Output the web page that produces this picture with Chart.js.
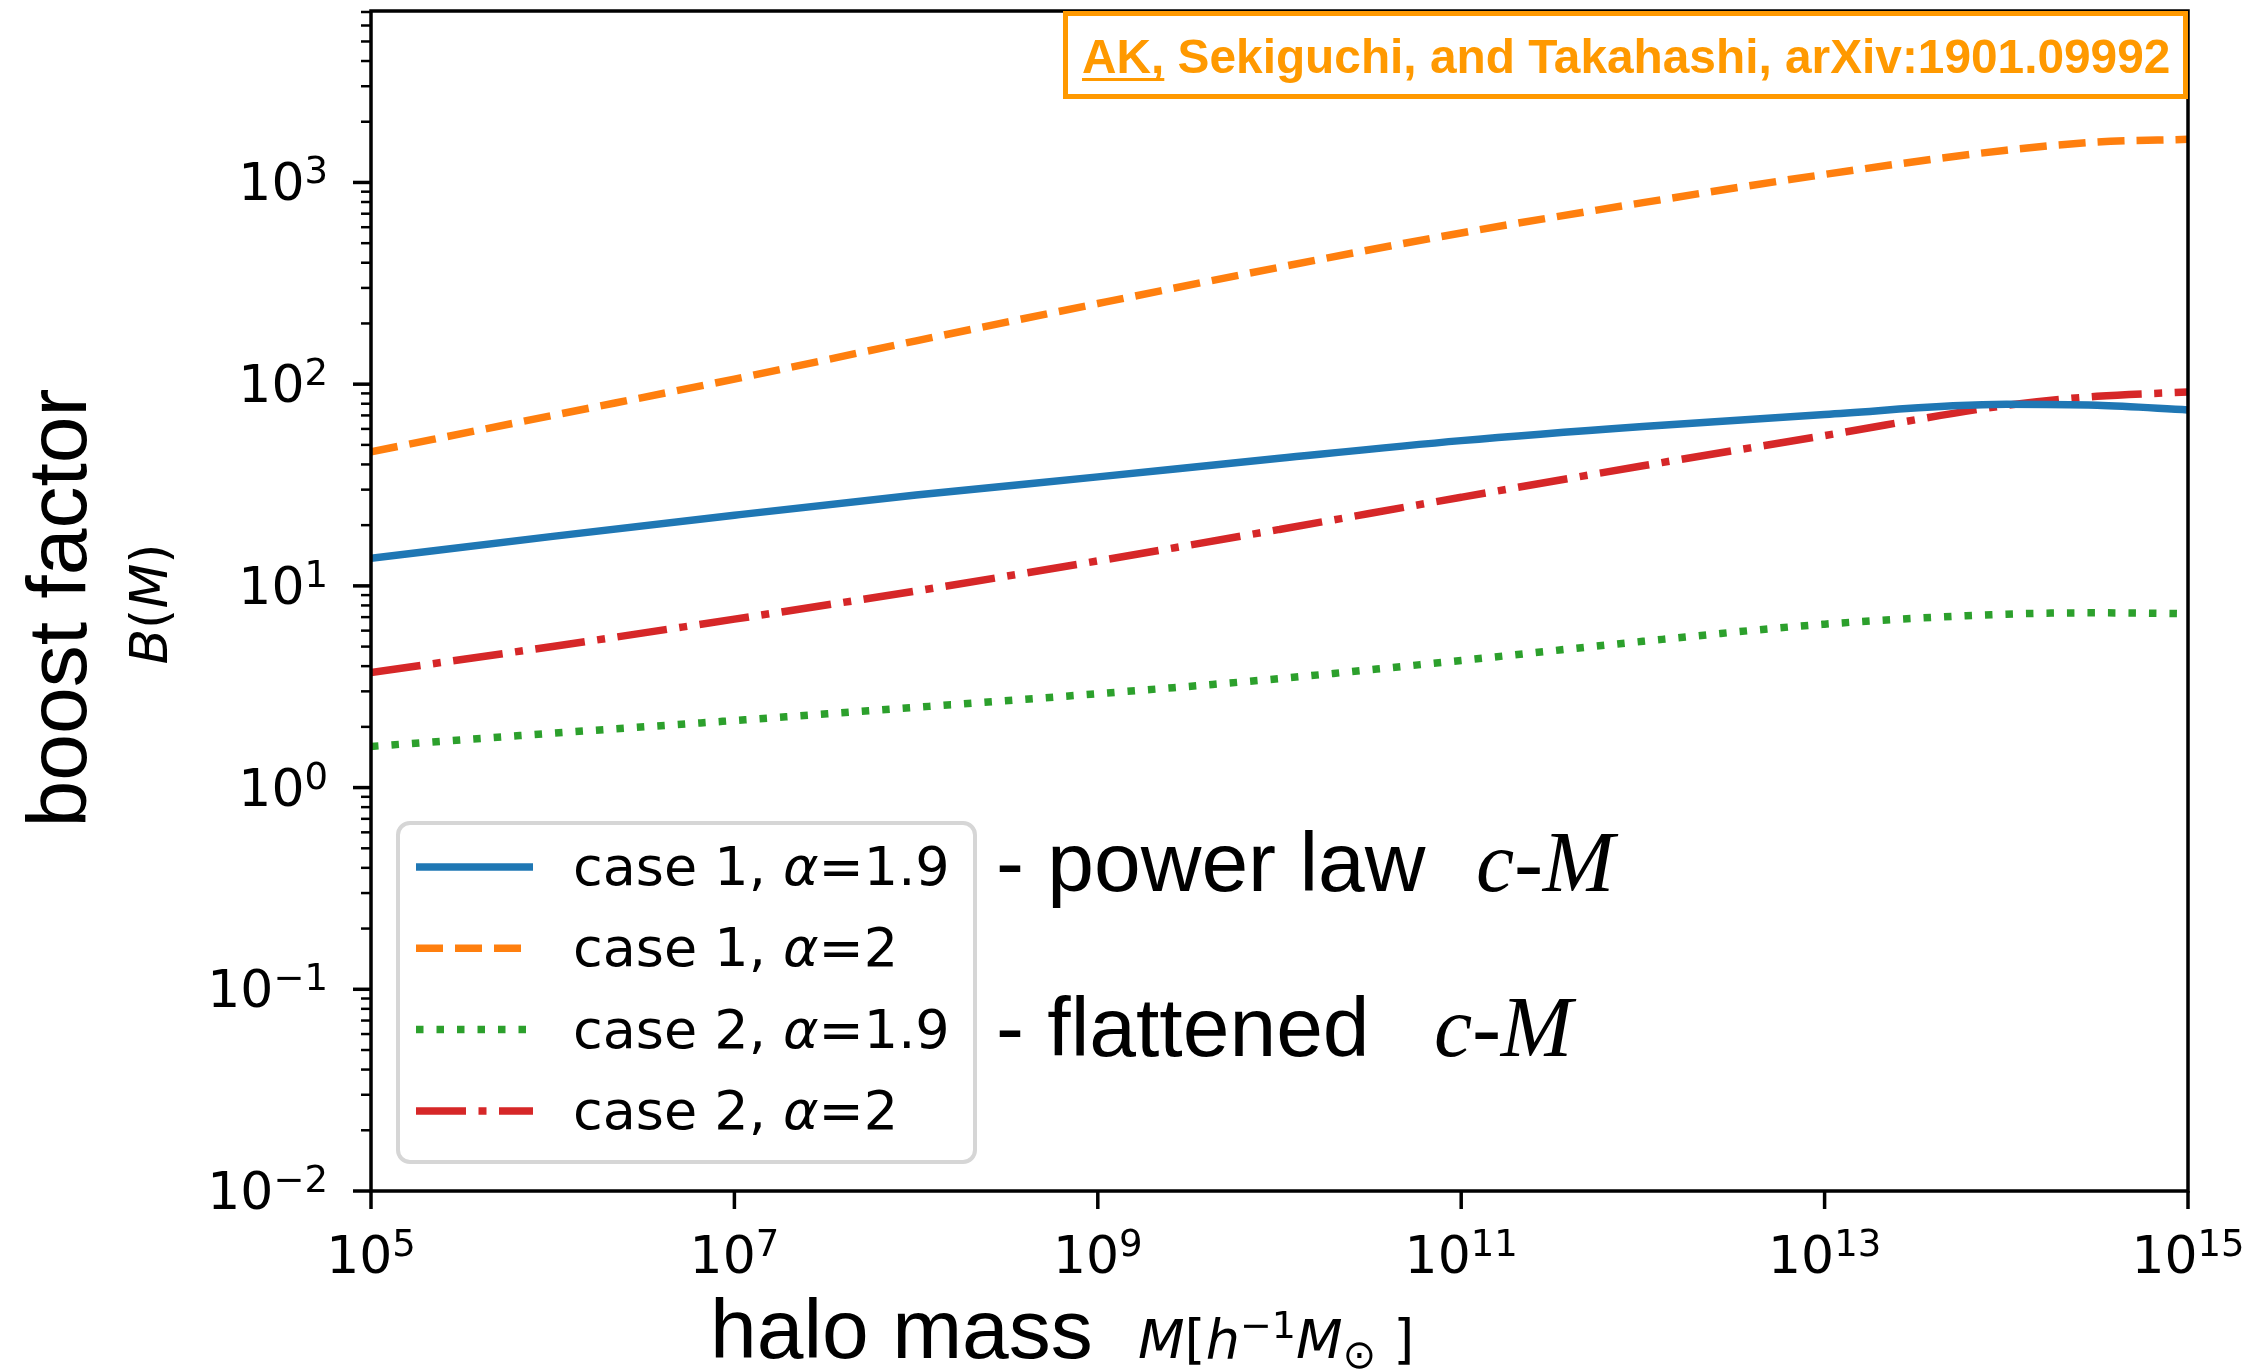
<!DOCTYPE html>
<html>
<head>
<meta charset="utf-8">
<script src="https://cdn.jsdelivr.net/npm/chart.js@4.4.0/dist/chart.umd.min.js"></script>
<style>
  html, body { margin: 0; padding: 0; background: #fff; }
  canvas { display: block; }
</style>
</head>
<body>
<canvas id="boostChart" width="2253" height="1371"></canvas>
<script>
// halo mass grid, M [h^-1 Msun]
const haloMass = [1e5, 1e6, 1e7, 1e8, 1e9, 1e10, 1e11, 1e12, 1e13, 1e14, 3.16e14, 1e15];

// boost factor B(M) for each model
const case1Alpha19 = [13.7, 17.6, 22.4, 28.2, 34.7, 42.9, 52.5, 61.7, 70.8, 79.4, 78.5, 74.5];
const case1Alpha2  = [46.2, 70, 106, 164, 251, 380, 562, 794, 1096, 1445, 1585, 1637];
const case2Alpha19 = [1.60, 1.86, 2.15, 2.50, 2.92, 3.47, 4.27, 5.31, 6.46, 7.24, 7.35, 7.28];
const case2Alpha2  = [3.72, 5.01, 6.84, 9.44, 13.3, 19.05, 27.5, 39.4, 55.6, 78.5, 87.1, 91.4];

const seriesLabels = ['case 1, α=1.9', 'case 1, α=2', 'case 2, α=1.9', 'case 2, α=2'];

const xTickValues = [1e5, 1e7, 1e9, 1e11, 1e13, 1e15];
const xTickExps = ['5', '7', '9', '11', '13', '15'];
const yTickValues = [1e-2, 1e-1, 1, 10, 100, 1000];
const yTickExps = ['\u22122', '\u22121', '0', '1', '2', '3'];

const paperRef = 'arXiv:1901.09992';

function toPoints(ys) {
  return haloMass.map((m, i) => ({ x: m, y: ys[i] }));
}

const tickFont = '52px "DejaVu Sans"';
const supFont = '37px "DejaVu Sans"';
const helv = '"Liberation Sans", Arial, sans-serif';

// "10" with a raised exponent, like matplotlib mathtext
function drawPow(ctx, exp, x, y, align) {
  ctx.font = tickFont;
  const wb = ctx.measureText('10').width;
  ctx.font = supFont;
  const we = ctx.measureText(exp).width;
  const total = wb + we;
  const x0 = align === 'center' ? x - total / 2 : x - total;
  ctx.textAlign = 'left';
  ctx.textBaseline = 'alphabetic';
  ctx.font = tickFont;
  ctx.fillText('10', x0, y);
  ctx.font = supFont;
  ctx.fillText(exp, x0 + wb, y - 17);
}

function roundRect(ctx, x, y, w, h, r) {
  ctx.beginPath();
  ctx.moveTo(x + r, y);
  ctx.lineTo(x + w - r, y);
  ctx.arcTo(x + w, y, x + w, y + r, r);
  ctx.lineTo(x + w, y + h - r);
  ctx.arcTo(x + w, y + h, x + w - r, y + h, r);
  ctx.lineTo(x + r, y + h);
  ctx.arcTo(x, y + h, x, y + h - r, r);
  ctx.lineTo(x, y + r);
  ctx.arcTo(x, y, x + r, y, r);
  ctx.closePath();
}

// spines, log ticks, labels, legend and notes drawn on top of the lines
const axesPlugin = {
  id: 'axesPlugin',
  afterDatasetsDraw(chart) {
    const ctx = chart.ctx;
    const area = chart.chartArea;
    const xs = chart.scales.x;
    const ys = chart.scales.y;
    ctx.save();
    ctx.strokeStyle = '#000';
    ctx.fillStyle = '#000';

    // spines
    ctx.lineWidth = 3.5;
    ctx.setLineDash([]);
    ctx.strokeRect(area.left, area.top, area.right - area.left, area.bottom - area.top);

    // x ticks
    xTickValues.forEach((v, i) => {
      const px = xs.getPixelForValue(v);
      ctx.lineWidth = 3.5;
      ctx.beginPath();
      ctx.moveTo(px, area.bottom);
      ctx.lineTo(px, area.bottom + 18);
      ctx.stroke();
      drawPow(ctx, xTickExps[i], px, 1273, 'center');
    });

    // y major + minor ticks
    yTickValues.forEach((v, i) => {
      const py = ys.getPixelForValue(v);
      ctx.lineWidth = 3.5;
      ctx.beginPath();
      ctx.moveTo(area.left, py);
      ctx.lineTo(area.left - 18, py);
      ctx.stroke();
      drawPow(ctx, yTickExps[i], 328, py + 18, 'right');
      for (let m = 2; m <= 9; m++) {
        const mv = v * m;
        if (mv > ys.max) break;
        const pm = ys.getPixelForValue(mv);
        ctx.lineWidth = 2.5;
        ctx.beginPath();
        ctx.moveTo(area.left, pm);
        ctx.lineTo(area.left - 10, pm);
        ctx.stroke();
      }
    });

    // axis titles
    ctx.textBaseline = 'alphabetic';
    ctx.save();
    ctx.translate(86, 608);
    ctx.rotate(-Math.PI / 2);
    ctx.textAlign = 'center';
    ctx.font = '84px ' + helv;
    ctx.fillText('boost factor', 0, 0);
    ctx.restore();

    ctx.save();
    ctx.translate(167, 604);
    ctx.rotate(-Math.PI / 2);
    ctx.textAlign = 'left';
    const bParts = [['B', 'oblique'], ['(', ''], ['M', 'oblique'], [')', '']];
    let bw = 0;
    bParts.forEach(p => { ctx.font = (p[1] ? 'oblique ' : '') + '52px "DejaVu Sans"'; bw += ctx.measureText(p[0]).width; });
    let bx = -bw / 2;
    bParts.forEach(p => {
      ctx.font = (p[1] ? 'oblique ' : '') + '52px "DejaVu Sans"';
      ctx.fillText(p[0], bx, 0);
      bx += ctx.measureText(p[0]).width;
    });
    ctx.restore();

    ctx.textAlign = 'left';
    ctx.font = '84px ' + helv;
    ctx.fillText('halo mass', 710, 1358);
    // M[h^-1 M_sun]
    let mx = 1138;
    const mParts = [
      ['M', 'oblique 54px', 0], ['[', '54px', 0], ['h', 'oblique 54px', 0],
      ['\u22121', '38px', -20], ['M', 'oblique 54px', 0], ['\u2299', '40px', 10], [' ]', '54px', 0]
    ];
    mParts.forEach(p => {
      ctx.font = p[1] + ' "DejaVu Sans"';
      ctx.fillText(p[0], mx, 1358 + p[2]);
      mx += ctx.measureText(p[0]).width;
    });

    // legend
    const lg = { x: 398, y: 823, w: 577, h: 339 };
    roundRect(ctx, lg.x, lg.y, lg.w, lg.h, 12);
    ctx.fillStyle = 'rgba(255,255,255,0.8)';
    ctx.fill();
    ctx.strokeStyle = '#d6d6d6';
    ctx.lineWidth = 4;
    ctx.stroke();

    chart.data.datasets.forEach((ds, i) => {
      const cy = 867 + i * 81.3;
      ctx.strokeStyle = ds.borderColor;
      ctx.lineWidth = ds.borderWidth;
      ctx.lineCap = 'butt';
      ctx.setLineDash(ds.borderDash || []);
      ctx.beginPath();
      ctx.moveTo(416, cy);
      ctx.lineTo(533, cy);
      ctx.stroke();
      ctx.setLineDash([]);

      ctx.fillStyle = '#000';
      let tx = 573;
      const [pre, post] = ds.label.split('α');
      ctx.font = '54px "DejaVu Sans"';
      ctx.fillText(pre, tx, cy + 18);
      tx += ctx.measureText(pre).width;
      ctx.font = 'oblique 54px "DejaVu Sans"';
      ctx.fillText('α', tx, cy + 18);
      tx += ctx.measureText('α').width;
      ctx.font = '54px "DejaVu Sans"';
      ctx.fillText(post, tx, cy + 18);
    });

    // model notes next to the legend
    ctx.fillStyle = '#000';
    ctx.font = '84px ' + helv;
    ctx.fillText('- power law', 996, 891);
    ctx.fillText('- flattened', 996, 1056);
    ctx.font = 'italic 86px "Liberation Serif", "Times New Roman", serif';
    ctx.fillText('c-M', 1476, 891);
    ctx.fillText('c-M', 1434, 1056);

    // reference box
    const orange = '#ff9900';
    ctx.fillStyle = '#fff';
    ctx.fillRect(1066, 14, 1120, 83);
    ctx.strokeStyle = orange;
    ctx.lineWidth = 5;
    ctx.strokeRect(1065.5, 13.5, 1120, 83);
    ctx.fillStyle = orange;
    ctx.font = 'bold 47.8px ' + helv;
    const authors = 'AK, Sekiguchi, and Takahashi, ' + paperRef;
    ctx.fillText(authors, 1082, 73);
    const akw = ctx.measureText('AK,').width;
    ctx.fillRect(1082, 78, akw, 3);

    ctx.restore();
  }
};

const ctx = document.getElementById('boostChart').getContext('2d');
const boostChart = new Chart(ctx, {
  type: 'line',
  data: {
    datasets: [{
      label: seriesLabels[0],
      data: toPoints(case1Alpha19),
      borderColor: '#1f77b4',
      borderWidth: 7.5,
      borderDash: []
    }, {
      label: seriesLabels[1],
      data: toPoints(case1Alpha2),
      borderColor: '#ff7f0e',
      borderWidth: 7.5,
      borderDash: [27, 12]
    }, {
      label: seriesLabels[2],
      data: toPoints(case2Alpha19),
      borderColor: '#2ca02c',
      borderWidth: 7.5,
      borderDash: [7.5, 13]
    }, {
      label: seriesLabels[3],
      data: toPoints(case2Alpha2),
      borderColor: '#d62728',
      borderWidth: 7.5,
      borderDash: [50, 12.5, 8, 12.5]
    }]
  },
  options: {
    responsive: false,
    animation: false,
    layout: { padding: { left: 371, right: 65, top: 11, bottom: 180 } },
    elements: {
      point: { radius: 0 },
      line: { cubicInterpolationMode: 'monotone', fill: false, borderCapStyle: 'butt' }
    },
    scales: {
      x: { type: 'logarithmic', min: 1e5, max: 1e15, display: false },
      y: { type: 'logarithmic', min: 1e-2, max: 7080, display: false }
    },
    plugins: {
      legend: { display: false },
      tooltip: { enabled: false }
    }
  },
  plugins: [axesPlugin]
});
</script>
</body>
</html>
